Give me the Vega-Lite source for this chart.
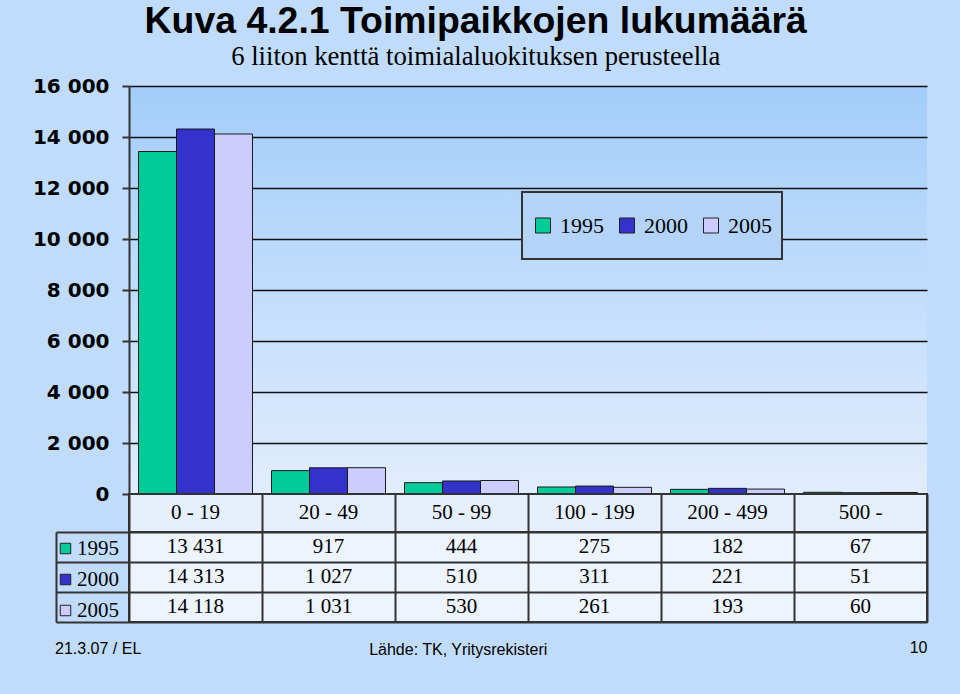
{
  "$schema": "https://vega.github.io/schema/vega-lite/v6.json",
  "background": "#c1dcfa",
  "padding": {"left": 32, "right": 33, "top": 2, "bottom": 36},
  "config": {
    "locale": {"number": {"decimal": ",", "thousands": " ", "grouping": [3], "currency": ["", " €"]}},
    "font": "Liberation Serif",
    "legend": {"strokeWidth": 2}
  },
  "datasets": {
    "t": [
      {"cat": "0 - 19", "year": "1995", "value": 13431},
      {"cat": "20 - 49", "year": "1995", "value": 917},
      {"cat": "50 - 99", "year": "1995", "value": 444},
      {"cat": "100 - 199", "year": "1995", "value": 275},
      {"cat": "200 - 499", "year": "1995", "value": 182},
      {"cat": "500 -", "year": "1995", "value": 67},
      {"cat": "0 - 19", "year": "2000", "value": 14313},
      {"cat": "20 - 49", "year": "2000", "value": 1027},
      {"cat": "50 - 99", "year": "2000", "value": 510},
      {"cat": "100 - 199", "year": "2000", "value": 311},
      {"cat": "200 - 499", "year": "2000", "value": 221},
      {"cat": "500 -", "year": "2000", "value": 51},
      {"cat": "0 - 19", "year": "2005", "value": 14118},
      {"cat": "20 - 49", "year": "2005", "value": 1031},
      {"cat": "50 - 99", "year": "2005", "value": 530},
      {"cat": "100 - 199", "year": "2005", "value": 261},
      {"cat": "200 - 499", "year": "2005", "value": 193},
      {"cat": "500 -", "year": "2005", "value": 60}
    ]
  },
  "data": {"name": "t"},
  "bounds": "flush",
  "spacing": 0,
  "resolve": {"scale": {"x": "independent", "y": "independent", "fill": "independent"}, "legend": {"fill": "independent"}},
  "title": {"text": "Lähde: TK, Yritysrekisteri", "orient": "bottom", "anchor": "middle", "frame": "bounds", "font": "Liberation Sans", "fontSize": 16, "fontWeight": "normal", "color": "black", "dx": -22, "dy": -20},
  "vconcat": [
    {
      "width": 798,
      "height": 408,
      "view": {"stroke": null, "fill": {"gradient": "linear", "x1": 0, "y1": 0, "x2": 0, "y2": 1, "stops": [{"offset": 0, "color": "#a2cdfa"}, {"offset": 1, "color": "#e1edfd"}]}},
      "title": {"text": "Kuva 4.2.1 Toimipaikkojen lukumäärä", "subtitle": "6 liiton kenttä toimialaluokituksen perusteella", "anchor": "middle", "frame": "bounds", "dx": -4, "font": "Liberation Sans", "fontSize": 37.4, "fontWeight": "bold", "color": "black", "subtitleFont": "Liberation Serif", "subtitleFontSize": 26.7, "subtitleColor": "black", "subtitlePadding": 4, "offset": 5},
      "mark": {"type": "bar", "stroke": "#1a1a1a", "strokeWidth": 1},
      "encoding": {
        "x": {"field": "cat", "type": "nominal", "sort": ["0 - 19", "20 - 49", "50 - 99", "100 - 199", "200 - 499", "500 -"], "scale": {"paddingInner": 0.143, "paddingOuter": 0.0715}, "axis": null},
        "xOffset": {"field": "year", "type": "nominal", "sort": ["1995", "2000", "2005"], "scale": {"paddingInner": 0, "paddingOuter": 0}},
        "y": {"field": "value", "type": "quantitative", "scale": {"domain": [0, 16000], "nice": false},
          "axis": {"values": [0, 2000, 4000, 6000, 8000, 10000, 12000, 14000, 16000], "format": ",d", "labelFont": "DejaVu Sans", "labelFontWeight": "bold", "labelFontSize": 20, "labelColor": "black", "labelPadding": 13, "tickSize": 7, "tickColor": "#333", "tickWidth": 2, "domainColor": "#333", "domainWidth": 2, "gridColor": "#111", "gridWidth": 1.5, "title": null}},
        "fill": {"field": "year", "type": "nominal", "scale": {"domain": ["1995", "2000", "2005"], "range": ["#00cc99", "#3333cc", "#ccccff"]},
          "legend": {"orient": "none", "legendX": 393, "legendY": 106, "direction": "horizontal", "title": null, "symbolType": "square", "symbolSize": 225, "symbolStrokeColor": "#222", "symbolStrokeWidth": 1, "symbolOpacity": 1, "labelFont": "Liberation Serif", "labelFontSize": 22, "labelColor": "black", "labelOffset": 6, "columnPadding": 12, "padding": 10, "clipHeight": 47, "fillColor": "#b3d4f8", "strokeColor": "#333"}}
      }
    },
    {
      "width": 798,
      "height": 38,
      "view": {"stroke": "#333", "strokeWidth": 2, "fill": "#e6f0fd"},
      "transform": [{"filter": "datum.year == '1995'"}],
      "mark": {"type": "text", "font": "Liberation Serif", "fontSize": 21, "color": "black", "baseline": "middle"},
      "encoding": {
        "x": {"field": "cat", "type": "nominal", "sort": ["0 - 19", "20 - 49", "50 - 99", "100 - 199", "200 - 499", "500 -"], "scale": {"paddingInner": 0, "paddingOuter": 0},
          "axis": {"orient": "bottom", "labels": false, "ticks": false, "domain": false, "grid": true, "tickBand": "extent", "gridColor": "#333", "gridWidth": 2, "title": null}},
        "text": {"field": "cat"}
      }
    },
    {
      "width": 798,
      "height": 90,
      "view": {"stroke": "#333", "strokeWidth": 2, "fill": "#edf4fe"},
      "title": {"text": "21.3.07 / EL", "orient": "bottom", "anchor": "start", "frame": "bounds", "font": "Liberation Sans", "fontSize": 16, "fontWeight": "normal", "color": "black", "offset": 0, "dy": -14},
      "encoding": {
        "x": {"field": "cat", "type": "nominal", "sort": ["0 - 19", "20 - 49", "50 - 99", "100 - 199", "200 - 499", "500 -"], "scale": {"paddingInner": 0, "paddingOuter": 0},
          "axis": {"orient": "bottom", "labels": false, "ticks": false, "domain": false, "grid": true, "tickBand": "extent", "gridColor": "#333", "gridWidth": 2, "title": "10", "titleAnchor": "end", "titleFont": "Liberation Sans", "titleFontSize": 16, "titleFontWeight": "normal", "titleColor": "black", "titlePadding": 17}},
        "y": {"field": "year", "type": "nominal", "sort": ["1995", "2000", "2005"], "scale": {"paddingInner": 0, "paddingOuter": 0},
          "axis": {"orient": "left", "offset": 73, "tickSize": -73, "tickBand": "extent", "ticks": true, "tickColor": "#333", "tickWidth": 2, "domain": true, "domainColor": "#333", "domainWidth": 2, "labels": false, "grid": true, "gridColor": "#333", "gridWidth": 2, "title": null}}
      },
      "layer": [
        {
          "mark": {"type": "rect", "opacity": 0},
          "encoding": {
            "fill": {"field": "year", "type": "nominal", "scale": {"domain": ["1995", "2000", "2005"], "range": ["#00cc99", "#3333cc", "#ccccff"]},
              "legend": {"orient": "none", "legendX": -74, "legendY": 6, "direction": "vertical", "title": null, "symbolType": "square", "symbolSize": 110, "symbolStrokeColor": "#222", "symbolStrokeWidth": 1, "symbolOpacity": 1, "labelFont": "Liberation Serif", "labelFontSize": 21, "labelColor": "black", "labelOffset": 1, "rowPadding": 9, "padding": 0}}
          }
        },
        {
          "mark": {"type": "text", "font": "Liberation Serif", "fontSize": 21, "color": "black", "baseline": "middle"},
          "encoding": {"text": {"field": "value", "type": "quantitative", "format": ",d"}}
        }
      ]
    }
  ]
}
